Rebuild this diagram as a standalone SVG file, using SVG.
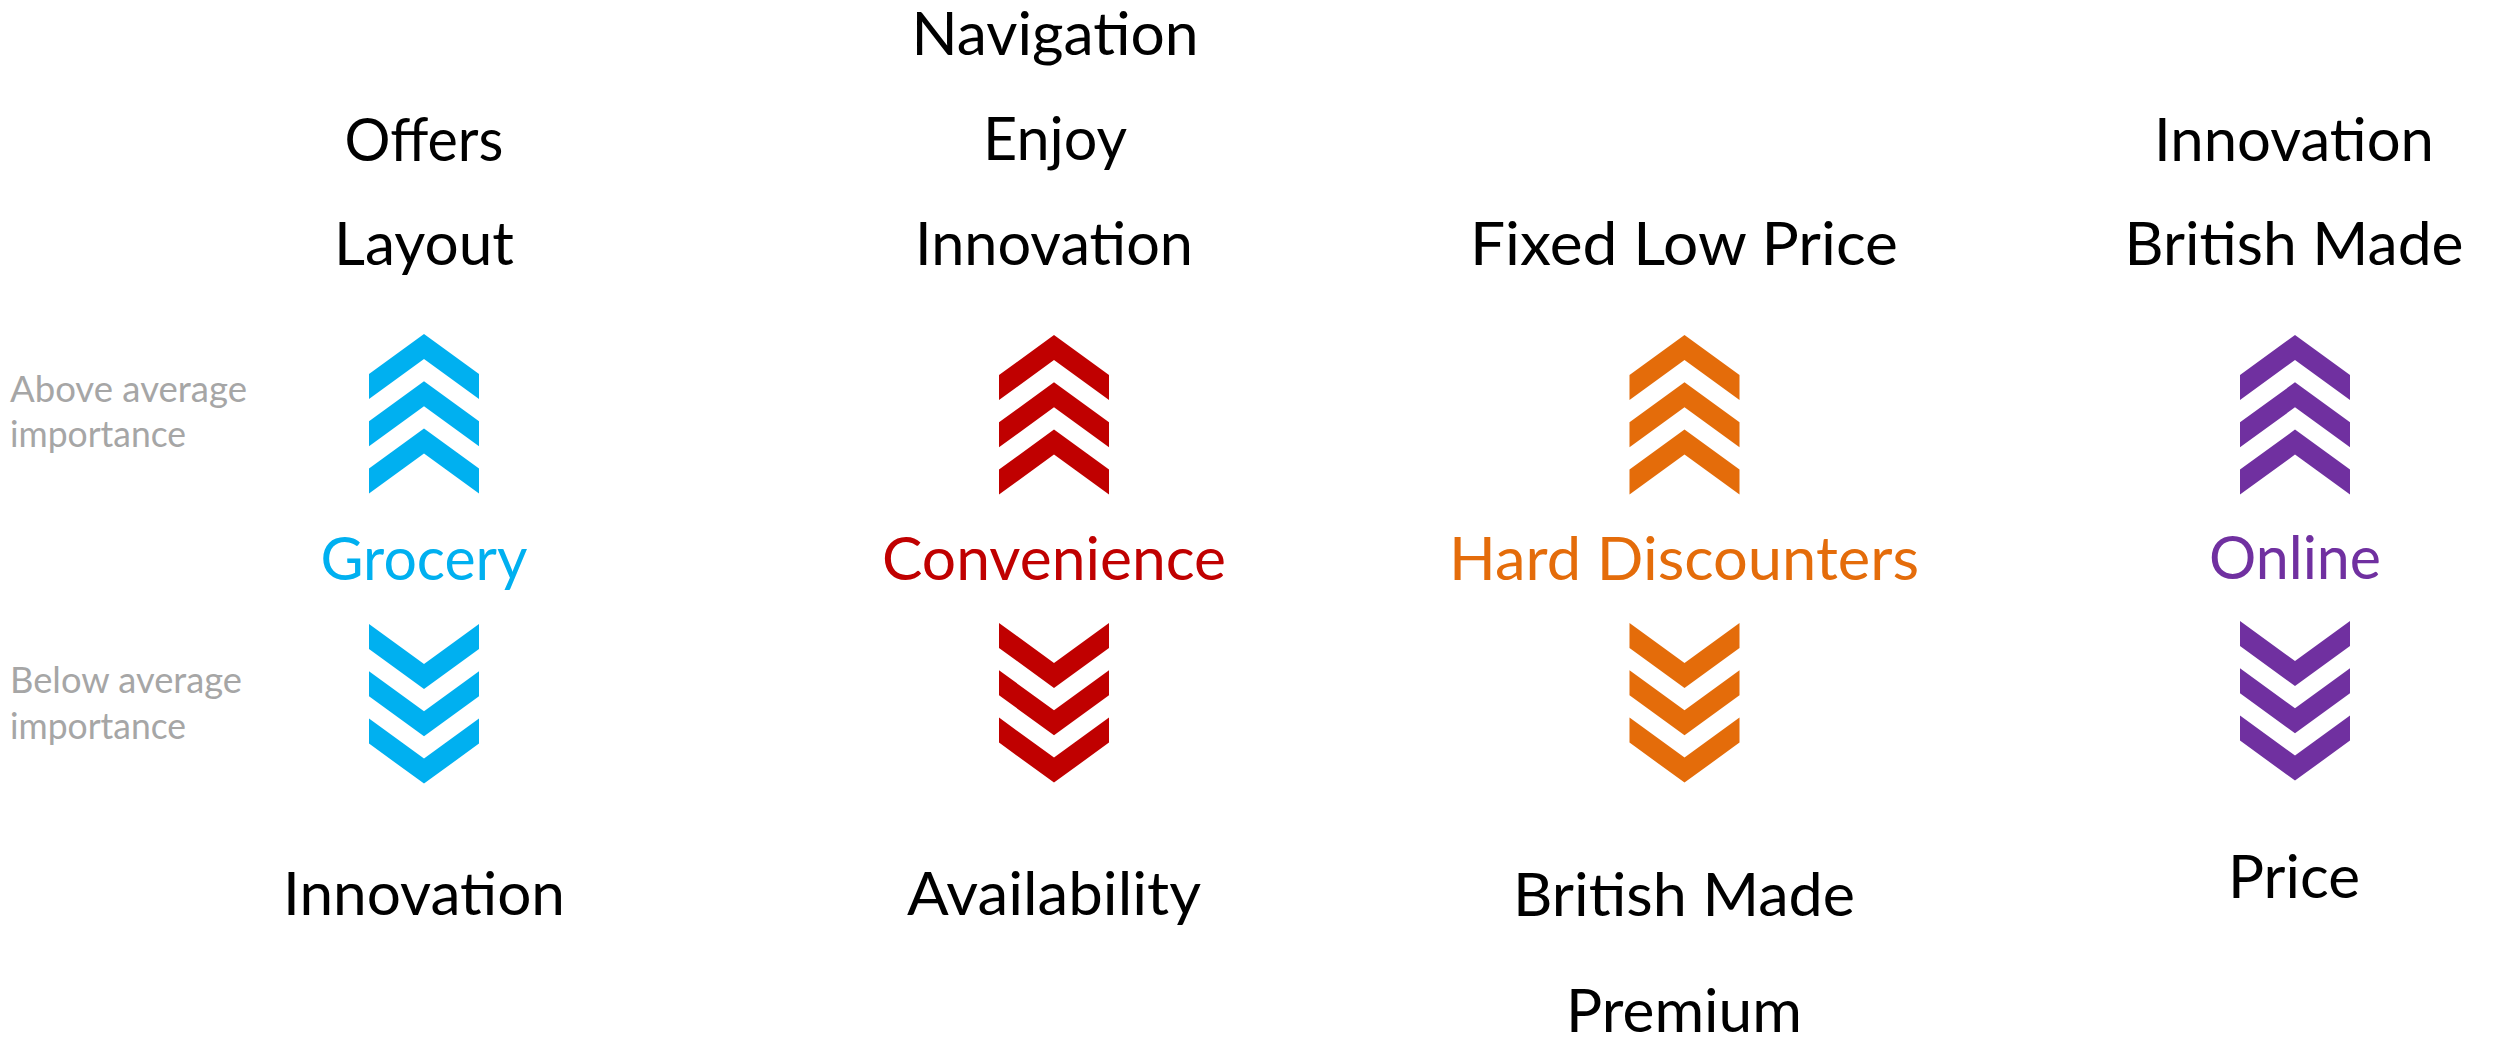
<svg xmlns="http://www.w3.org/2000/svg" xmlns:xlink="http://www.w3.org/1999/xlink" width="2496" height="1038" viewBox="0 0 2496 1038">
  <style>
    .t { font-family: Lato, "Open Sans", "Liberation Sans", sans-serif; font-size: 60px; fill: #000; text-anchor: middle; }
    .cat { font-family: Lato, "Open Sans", "Liberation Sans", sans-serif; font-size: 60px; text-anchor: middle; }
    .side { font-family: Lato, "Open Sans", "Liberation Sans", sans-serif; font-size: 36px; fill: #A6A6A6; }
    .blue { fill: #00B0F0; }
    .red { fill: #C00000; }
    .orange { fill: #E46C0A; }
    .purple { fill: #7030A0; }
  </style>
  <defs>
    <!-- single chevron, origin at the outer apex -->
    <path id="chev" d="M0,0 L55,40 L55,65 L0,25 L-55,65 L-55,40 Z"/>
    <!-- stack of three upward chevrons -->
    <g id="up3">
      <use xlink:href="#chev" y="0"/>
      <use xlink:href="#chev" y="47.3"/>
      <use xlink:href="#chev" y="94.6"/>
    </g>
    <!-- stack of three downward chevrons, origin at the top edge -->
    <g id="down3">
      <g transform="translate(0,160.6) scale(1,-1)">
        <use xlink:href="#chev" y="0"/>
        <use xlink:href="#chev" y="47.3"/>
        <use xlink:href="#chev" y="94.6"/>
      </g>
    </g>
  </defs>
  <rect width="2496" height="1038" fill="#fff"/>

  <g id="legend">
    <text class="side" x="10" y="402" textLength="237" lengthAdjust="spacingAndGlyphs">Above average</text>
    <text class="side" x="10" y="447" textLength="176" lengthAdjust="spacingAndGlyphs">importance</text>
    <text class="side" x="10" y="693" textLength="232" lengthAdjust="spacingAndGlyphs">Below average</text>
    <text class="side" x="10" y="739" textLength="176" lengthAdjust="spacingAndGlyphs">importance</text>
  </g>

  <g id="grocery">
    <text class="t" x="424" y="161" textLength="159" lengthAdjust="spacingAndGlyphs">Offers</text>
    <text class="t" x="424" y="265" textLength="180" lengthAdjust="spacingAndGlyphs">Layout</text>
    <use xlink:href="#up3" x="424" y="334" class="blue"/>
    <text class="cat blue" x="424" y="580" textLength="207" lengthAdjust="spacingAndGlyphs">Grocery</text>
    <use xlink:href="#down3" x="424" y="623" class="blue"/>
    <text class="t" x="424" y="915" textLength="282" lengthAdjust="spacingAndGlyphs">Innovation</text>
  </g>

  <g id="convenience">
    <text class="t" x="1055" y="55" textLength="287" lengthAdjust="spacingAndGlyphs">Navigation</text>
    <text class="t" x="1055" y="160" textLength="144" lengthAdjust="spacingAndGlyphs">Enjoy</text>
    <text class="t" x="1054" y="265" textLength="278" lengthAdjust="spacingAndGlyphs">Innovation</text>
    <use xlink:href="#up3" x="1054" y="335" class="red"/>
    <text class="cat red" x="1054" y="580" textLength="344" lengthAdjust="spacingAndGlyphs">Convenience</text>
    <use xlink:href="#down3" x="1054" y="622" class="red"/>
    <text class="t" x="1054" y="915" textLength="294" lengthAdjust="spacingAndGlyphs">Availability</text>
  </g>

  <g id="hard-discounters">
    <text class="t" x="1684" y="265" textLength="428" lengthAdjust="spacingAndGlyphs">Fixed Low Price</text>
    <use xlink:href="#up3" x="1684.5" y="335" class="orange"/>
    <text class="cat orange" x="1684" y="580" textLength="470" lengthAdjust="spacingAndGlyphs">Hard Discounters</text>
    <use xlink:href="#down3" x="1684.5" y="622" class="orange"/>
    <text class="t" x="1684" y="916" textLength="342" lengthAdjust="spacingAndGlyphs">British Made</text>
    <text class="t" x="1684" y="1032" textLength="236" lengthAdjust="spacingAndGlyphs">Premium</text>
  </g>

  <g id="online">
    <text class="t" x="2294" y="161" textLength="280" lengthAdjust="spacingAndGlyphs">Innovation</text>
    <text class="t" x="2294" y="265" textLength="339" lengthAdjust="spacingAndGlyphs">British Made</text>
    <use xlink:href="#up3" x="2295" y="335" class="purple"/>
    <text class="cat purple" x="2295" y="579" textLength="172" lengthAdjust="spacingAndGlyphs">Online</text>
    <use xlink:href="#down3" x="2295" y="620" class="purple"/>
    <text class="t" x="2294" y="898" textLength="132" lengthAdjust="spacingAndGlyphs">Price</text>
  </g>
</svg>
